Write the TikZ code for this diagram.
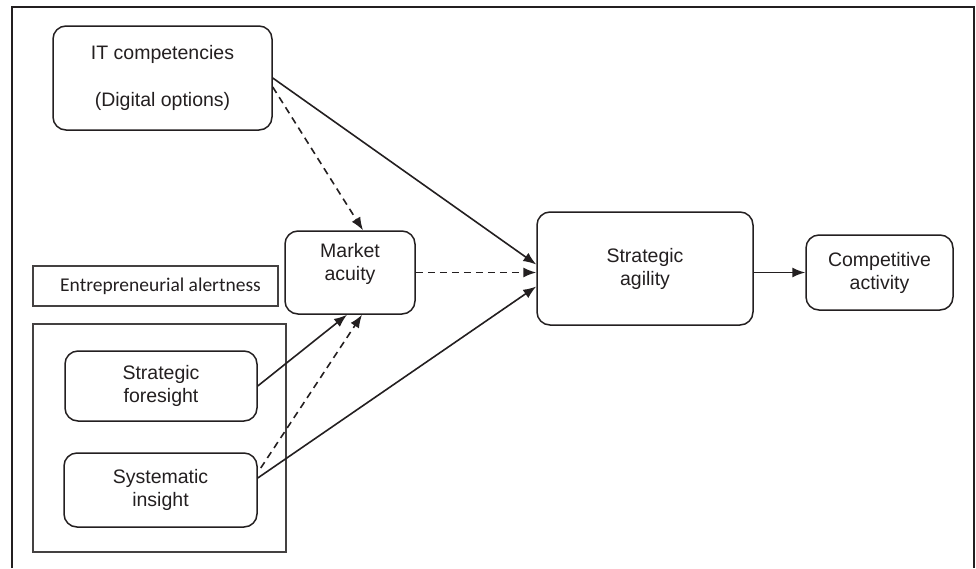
\documentclass[tikz,border=0pt]{standalone}
\usepackage{fontspec}
\setmainfont{Liberation Sans}
\newfontfamily\calfont{Carlito}
\usetikzlibrary{arrows.meta}
\definecolor{ink}{HTML}{231F20}
\begin{document}
\begin{tikzpicture}[x=1pt,y=-1pt,
    box/.style={draw=ink,line width=1.5pt,rounded corners=13pt,inner sep=0pt,
      align=center,text=ink,font=\fontsize{19.5}{23}\selectfont},
    plain/.style={draw=ink!85,line width=1.1pt,inner sep=0pt},
    link/.style={draw=ink,line width=1.6pt,-{Latex[length=13pt,width=10pt]}},
    dlink/.style={link,dash pattern=on 7pt off 5pt}]
  \useasboundingbox (0,0) rectangle (976,568);
  \draw[ink,line width=2.8pt] (12,568) -- (12,7) -- (974,7) -- (974,568);
  % boxes
  \node[box,minimum width=219pt,minimum height=104pt] (itc) at (162.5,78)
    {IT competencies\\[24pt](Digital options)};
  \node[box,minimum width=130pt,minimum height=83pt] (acuity) at (350,272.5)
    {Market\\acuity\\[-2pt]\mbox{}};
  \node[box,minimum width=216pt,minimum height=113pt] (agility) at (645,268.5)
    {Strategic\\agility};
  \node[box,minimum width=147pt,minimum height=75pt] (activity) at (879.5,272.5)
    {Competitive\\activity};
  \node[plain,minimum width=245pt,minimum height=40pt,text=ink,
    font=\calfont\fontsize{19.5}{23}\selectfont] (alert) at (155.5,286)
    {\hspace{10pt}Entrepreneurial alertness};
  \node[plain,minimum width=253pt,minimum height=228pt] (group) at (159.5,438) {};
  \node[box,minimum width=192pt,minimum height=70pt] (foresight) at (161,386)
    {Strategic\\foresight};
  \node[box,minimum width=193pt,minimum height=74pt] (insight) at (160.5,490)
    {Systematic\\insight};
  % connectors
  \draw[link] (itc.east) -- ([yshift=4pt]agility.west);
  \draw[dlink] ([yshift=-9pt]itc.east) -- ([xshift=13pt]acuity.north);
  \draw[dlink] (acuity.east) -- (acuity.east -| agility.west);
  \draw[link] (foresight.east) -- ([xshift=-3pt]acuity.south);
  \draw[dlink] ([xshift=3pt,yshift=22pt]insight.east) -- ([xshift=12pt]acuity.south);
  \draw[link] ([yshift=12pt]insight.east) -- ([yshift=-18pt]agility.west);
  \draw[link] (agility.east |- activity.west) -- (activity.west);
\end{tikzpicture}
\end{document}
